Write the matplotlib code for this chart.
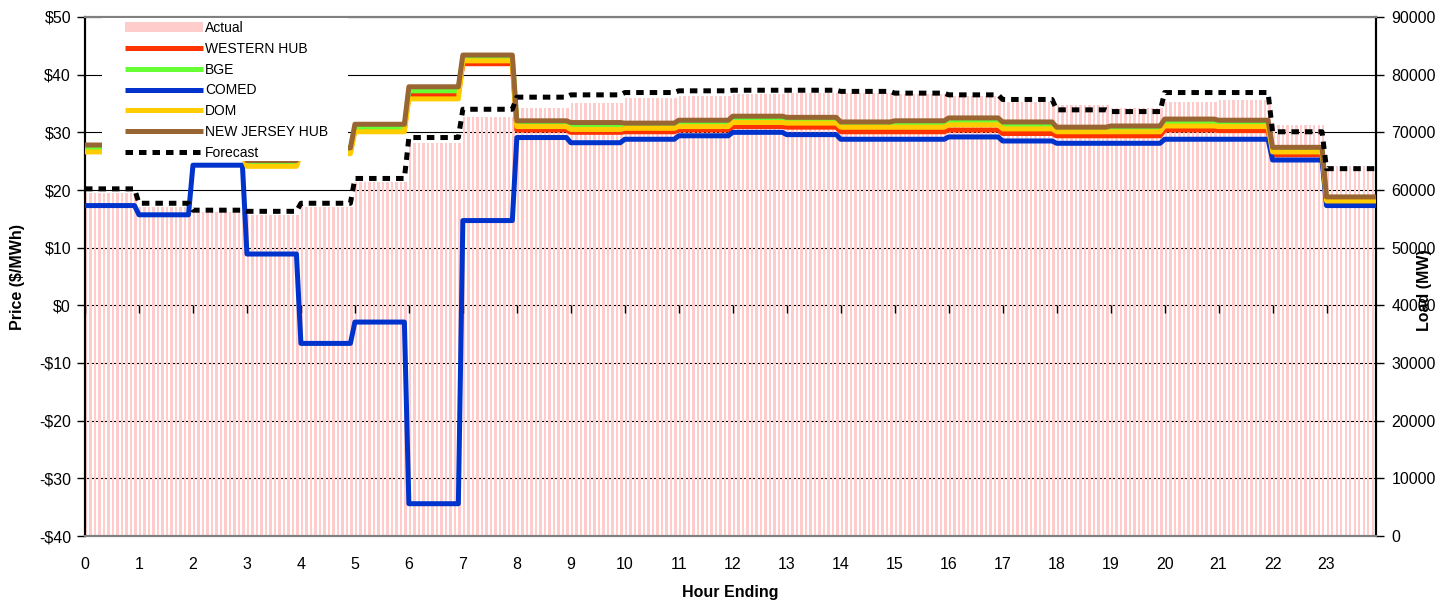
import numpy as np
import matplotlib.pyplot as plt
from matplotlib.patches import Rectangle

plt.rcParams['font.family'] = ['Liberation Sans', 'DejaVu Sans']

# Hour ending index (0..23); each hour holds 12 five-minute intervals
hours = np.arange(24)
hour_labels = [str(h) for h in hours]
steps = 12

# Prices ($/MWh) per hour
western_hub = [27.0, 26.1, 26.3, 24.4, 26.6, 30.5, 36.5, 41.9, 30.4, 30.0, 30.1, 30.4,
               31.0, 30.9, 30.1, 30.1, 30.4, 29.8, 29.4, 29.4, 30.4, 30.3, 26.1, 17.9]
bge = [27.3, 26.4, 26.6, 24.7, 26.9, 30.8, 37.2, 43.0, 31.5, 31.1, 31.0, 31.6,
       32.3, 32.1, 31.2, 31.6, 31.8, 31.2, 30.4, 30.5, 31.7, 31.6, 26.9, 18.3]
comed = [17.3, 15.7, 24.3, 8.9, -6.6, -2.9, -34.4, 14.7, 29.1, 28.2, 28.8, 29.4,
         30.0, 29.6, 28.8, 28.8, 29.2, 28.5, 28.1, 28.1, 28.8, 28.8, 25.2, 17.3]
dom = [26.6, 25.9, 26.1, 24.1, 26.3, 30.1, 35.8, 42.4, 31.0, 30.5, 30.7, 31.0,
       31.7, 31.6, 30.9, 30.9, 31.3, 30.6, 30.1, 30.1, 31.1, 31.0, 26.6, 18.1]
nj_hub = [27.8, 26.8, 27.0, 25.1, 27.3, 31.4, 37.9, 43.4, 32.0, 31.7, 31.6, 32.1,
          32.8, 32.6, 31.8, 32.0, 32.5, 31.8, 30.9, 31.1, 32.3, 32.1, 27.4, 18.8]

# Load (MW) per hour
actual_load = [59400, 57100, 56100, 55700, 57000, 61400, 68100, 72700, 74200, 75100, 76000, 76300,
               76600, 76900, 76800, 76700, 76300, 75300, 74700, 74200, 75300, 75600, 71300, 64200]
forecast_load = [60200, 57700, 56500, 56300, 57700, 62000, 69100, 74000, 76100, 76500, 76900, 77200,
                 77300, 77300, 77100, 76800, 76500, 75700, 73900, 73600, 76900, 76900, 70100, 63700]

price_ticks = np.arange(-40, 51, 10)
load_ticks = np.arange(0, 90001, 10000)

# five-minute time axis
t = np.arange(len(hours) * steps) / steps

def five_min(values):
    return np.repeat(values, steps)

fig = plt.figure(figsize=(14.55, 6.02), dpi=100)
ax = fig.add_axes([85 / 1455, 66 / 602, 1291 / 1455, 519 / 602])
ax2 = ax.twinx()
ax.set_zorder(ax2.get_zorder() + 1)
ax.patch.set_visible(False)

# load bars + grid on the right axis
ax2.set_axisbelow(True)
ax2.yaxis.grid(True, color='black', lw=0.8)
bars = ax2.bar(t, five_min(actual_load), width=0.55 / steps, align='edge',
               color='#FFCCCC', label='Actual')

lw = 3.6
series = [
    (western_hub, '#FF3300', 'WESTERN HUB'),
    (bge, '#66FF33', 'BGE'),
    (comed, '#0033CC', 'COMED'),
    (dom, '#FFCC00', 'DOM'),
    (nj_hub, '#996633', 'NEW JERSEY HUB'),
]
handles = [bars]
for vals, col, name in series:
    line, = ax.plot(t, five_min(vals), color=col, lw=lw, label=name,
                    solid_joinstyle='round', solid_capstyle='butt', zorder=3)
    handles.append(line)

fc, = ax.plot(t, five_min(forecast_load), color='black', lw=lw, ls=(0, (1.5, 1.2)),
              dash_capstyle='butt', transform=ax2.transData, zorder=4, label='Forecast')
handles.append(fc)

ax.set_xlim(0, t[-1])
ax.set_ylim(-40, 50)
ax2.set_ylim(0, 90000)

ax.set_yticks(price_ticks)
ax.set_yticklabels([f'${v}' if v >= 0 else f'-${-v}' for v in price_ticks])
ax2.set_yticks(load_ticks)
ax2.set_yticklabels([str(v) for v in load_ticks])
ax.set_xticks(hours)
ax.set_xticklabels(hour_labels)

ax.tick_params(axis='y', direction='out', length=6, width=1, pad=4, labelsize=11.5)
ax2.tick_params(axis='y', direction='out', length=6, width=1, pad=5, labelsize=11.5)
ax.tick_params(axis='x', length=0, pad=15, labelsize=11.5)

# category axis crosses at $0: tick marks only
zero_axis = ax.secondary_xaxis((0 - (-40)) / (50 - (-40)))
zero_axis.set_xticks(hours)
zero_axis.tick_params(axis='x', direction='out', length=6, width=1, labelbottom=False)
zero_axis.spines['bottom'].set_visible(False)

for a in (ax, ax2):
    for side in ('left', 'right'):
        a.spines[side].set_color('black')
        a.spines[side].set_linewidth(1.5)
    for side in ('top', 'bottom'):
        a.spines[side].set_color('#808080')
        a.spines[side].set_linewidth(1.5)

ax.set_ylabel('Price ($/MWh)', fontsize=11.5, fontweight='bold')
ax.yaxis.set_label_coords(-0.0465, 0.5)
ax2.set_ylabel('Load (MW)', fontsize=11.5, fontweight='bold')
ax2.yaxis.set_label_coords(1.032, 0.474)
ax.set_xlabel('Hour Ending', fontsize=11.5, fontweight='bold')
ax.xaxis.set_label_coords(0.4996, -0.094)

# white legend area (hides the lines behind it, like the original)
ax.add_patch(Rectangle((17 / 1291, (536 - 161) / 519), 246 / 1291, 143 / 519,
                       transform=ax.transAxes, facecolor='white', edgecolor='none',
                       zorder=6))

leg = ax.legend(handles=handles, loc='upper left', bbox_to_anchor=(40 / 1291, (536 - 21) / 519),
                borderaxespad=0, fontsize=10, frameon=False,
                handlelength=5.6, handletextpad=0.15, labelspacing=0.49, borderpad=0)
leg.set_zorder(10)

fig.savefig('out.png', dpi=100)
